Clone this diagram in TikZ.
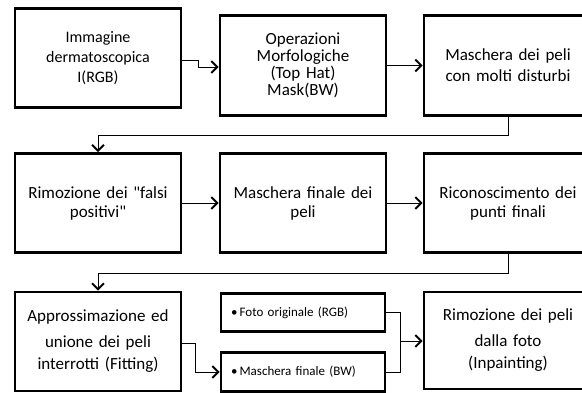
\documentclass[tikz,border=0pt]{standalone}
\usepackage{fontspec}
\setmainfont{Carlito}[Ligatures=TeXOff]
\usetikzlibrary{arrows.meta}
\begin{document}
\begin{tikzpicture}[x=1pt,y=-1pt,
  bigbox/.style={draw,line width=2.6pt,minimum width=166pt,minimum height=99pt,inner sep=0pt,
    text width=160pt,align=center,font=\fontsize{17}{19}\selectfont},
  smallbox/.style={draw,line width=2.6pt,minimum width=164pt,minimum height=38pt,inner xsep=10pt,inner ysep=0pt,
    text width=144pt,align=left,font=\fontsize{13}{14}\selectfont},
  conn/.style={line width=0.9pt,-{Straight Barb[length=6pt,width=12pt,line width=2pt]}},
  plain/.style={line width=0.9pt}]
\useasboundingbox (0,0) rectangle (582,393);
\clip (0,0) rectangle (582,393);
\fill[white] (0,0) rectangle (582,393);
\node[bigbox,font=\fontsize{16}{20}\selectfont] (b1) at (98,58) {Immagine\\dermatoscopica\\I(RGB)};
\node[bigbox,minimum height=100pt,font=\fontsize{17}{17}\selectfont] (b2) at (303,65.5) {Operazioni\\Morfologiche\\(Top Hat)\\Mask(BW)};
\node[bigbox,minimum width=168pt,minimum height=100pt,font=\fontsize{17}{21}\selectfont] (b3) at (508,65.5) {Maschera dei peli\\con molti disturbi};
\node[bigbox] (b4) at (98,203) {Rimozione dei "falsi\\positivi"};
\node[bigbox] (b5) at (303,203) {Maschera finale dei\\peli};
\node[bigbox,minimum width=168pt] (b6) at (508,203) {Riconoscimento dei\\punti finali};
\node[bigbox,font=\fontsize{17}{22}\selectfont] (b7) at (98,341.5) {\vspace*{4pt}Approssimazione ed\\unione dei peli\\interrotti (Fitting)};
\node[smallbox] (s1) at (303,312.5) {•\,Foto originale (RGB)};
\node[smallbox,minimum height=39pt] (s2) at (303,372) {•\,Maschera finale (BW)};
\node[bigbox,minimum width=168pt,minimum height=97pt,font=\fontsize{17}{22}\selectfont] (b9) at (508,340.5) {\vspace*{4pt}Rimozione dei peli\\dalla foto\\(Inpainting)};
% connectors
\coordinate (j1) at (198,60);
\draw[conn] (b1.east |- j1) -- (j1) -- (198,67) -- (b2.west |- 0,67);
\draw[conn] (b2) -- (b3);
\draw[conn] (b3.south) -- (508,135) -- (98,135) -- (b4.north);
\draw[conn] (b4) -- (b5);
\draw[conn] (b5) -- (b6);
\draw[conn] (b6.south) -- (508,273) -- (98,273) -- (b7.north);
\coordinate (j2) at (195,343);
\draw[conn] (b7.east |- j2) -- (j2) -- (195,372) -- (s2.west);
\coordinate (k) at (400,341);
\draw[plain] (s1.east) -- (400,312.5) -- (400,372) -- (s2.east);
\draw[conn] (k) -- (b9.west |- k);
\end{tikzpicture}
\end{document}
